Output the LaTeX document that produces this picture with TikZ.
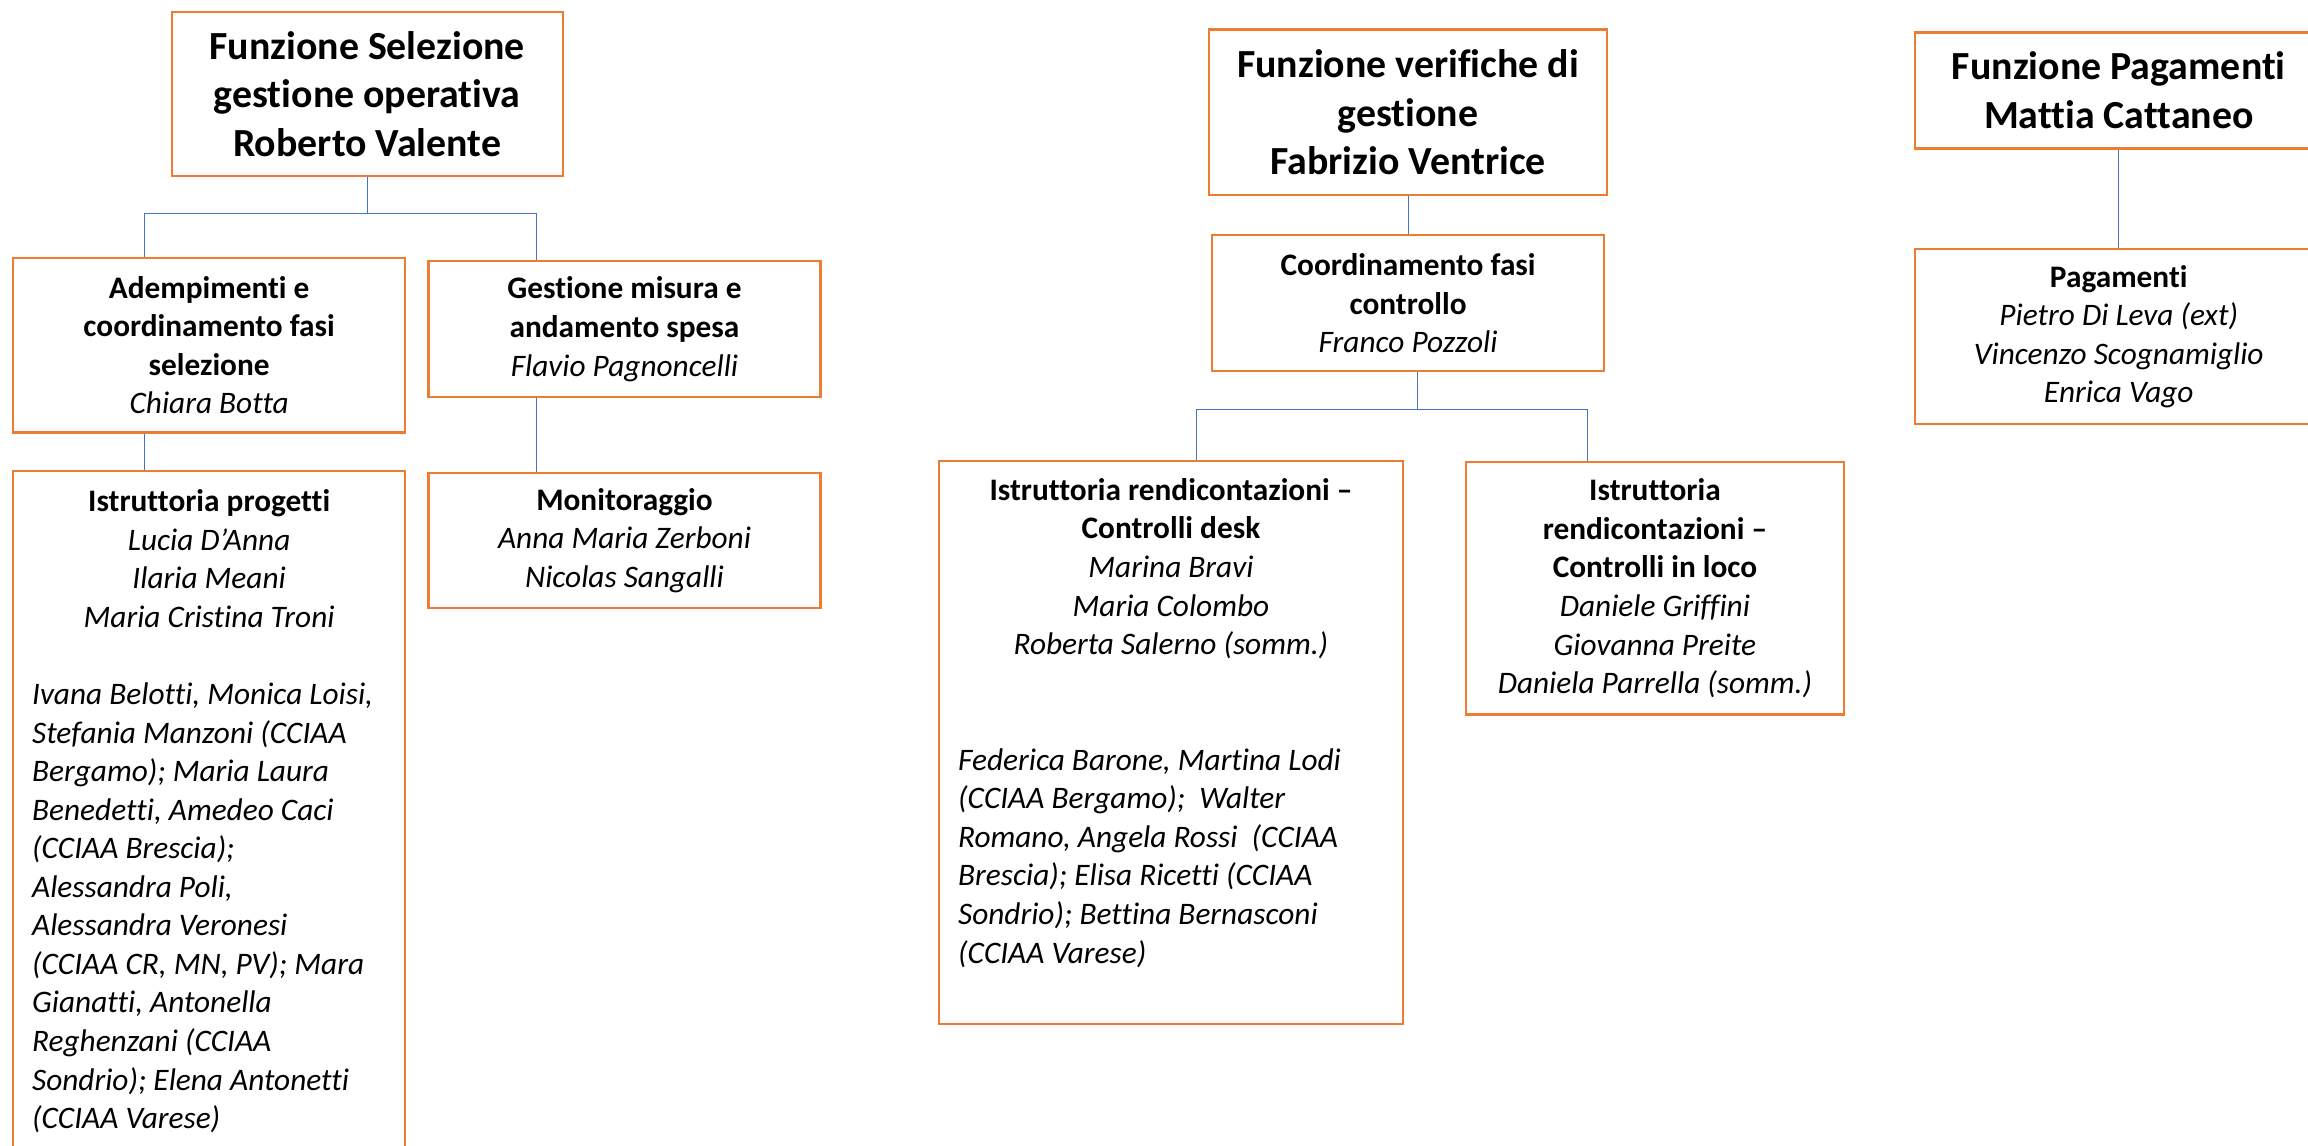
\documentclass[tikz,border=0pt]{standalone}
\usepackage{fontspec}
\setmainfont{Carlito}[Ligatures=NoCommon]
\usetikzlibrary{positioning}
\definecolor{boxorange}{RGB}{237,125,49}
\definecolor{linkblue}{RGB}{68,114,196}
\newcommand{\ppx}{0.02cm}
\newcommand{\titlefont}{\fontsize{15.4pt}{18.8pt}\selectfont\bfseries}
\newcommand{\bodyfont}{\fontsize{12.1pt}{14.9pt}\selectfont}

\begin{document}
\begin{tikzpicture}[x=\ppx, y=-\ppx,
    box/.style={draw=boxorange, line width=0.9pt, fill=white, inner sep=0pt, align=center, font=\bodyfont},
    headbox/.style={box, font=\titlefont},
    link/.style={draw=linkblue, line width=0.45pt}]
    \useasboundingbox (0,0) rectangle (1567,778);
    \clip (0,0) rectangle (1567,778);
    % Funzione Selezione
    \node[headbox, minimum width=265.5*\ppx, minimum height=111.5*\ppx] (selez) at (249.3,63.8)
        {Funzione Selezione\\gestione operativa\\Roberto Valente};
    \node[box, minimum width=266*\ppx, minimum height=118.6*\ppx] (adempi) at (142,234.3)
        {\textbf{Adempimenti e}\\\textbf{coordinamento fasi}\\\textbf{selezione}\\\textit{Chiara Botta}};
    \node[box, minimum width=266*\ppx, minimum height=92.4*\ppx] (gestmis) at (424,223.5)
        {\textbf{Gestione misura e}\\\textbf{andamento spesa}\\\textit{Flavio Pagnoncelli}};
    \node[box, minimum width=266*\ppx, minimum height=484*\ppx] (istrprog) at (142,562)
        {\textbf{Istruttoria progetti}\\\textit{Lucia D’Anna}\\\textit{Ilaria Meani}\\\textit{Maria Cristina Troni}\\[14.9pt]
        \begin{minipage}[t]{4.808cm}\raggedright\itshape
        Ivana Belotti, Monica Loisi,\\ Stefania Manzoni (CCIAA\\ Bergamo); Maria Laura\\
        Benedetti, Amedeo Caci\\ (CCIAA Brescia);\\ Alessandra Poli,\\ Alessandra Veronesi\\
        (CCIAA CR, MN, PV); Mara\\ Gianatti, Antonella\\ Reghenzani (CCIAA\\
        Sondrio); Elena Antonetti\\ (CCIAA Varese)\rule[-14.4pt]{0pt}{1pt}
        \end{minipage}};
    \node[box, minimum width=266*\ppx, minimum height=92*\ppx] (monit) at (424,367)
        {\textbf{Monitoraggio}\\\textit{Anna Maria Zerboni}\\\textit{Nicolas Sangalli}};
    % Funzione verifiche
    \node[headbox, minimum width=270*\ppx, minimum height=112.4*\ppx] (verif) at (956,76.2)
        {Funzione verifiche di\\gestione\\Fabrizio Ventrice};
    \node[box, minimum width=266*\ppx, minimum height=92.5*\ppx] (coordctrl) at (956,205.8)
        {\textbf{Coordinamento fasi}\\\textbf{controllo}\\\textit{Franco Pozzoli}};
    \node[box, minimum width=315*\ppx, minimum height=382*\ppx] (desk) at (795,504)
        {\textbf{Istruttoria rendicontazioni –}\\\textbf{Controlli desk}\\\textit{Marina Bravi}\\\textit{Maria Colombo}\\\textit{Roberta Salerno (somm.)}\\[29.8pt]
        \begin{minipage}[t]{5.78cm}\raggedright\itshape
        Federica Barone, Martina Lodi\\ (CCIAA Bergamo);\ \ Walter\\ Romano, Angela Rossi\ \ (CCIAA\\
        Brescia); Elisa Ricetti (CCIAA\\ Sondrio); Bettina Bernasconi\\ (CCIAA Varese)\rule[-16.7pt]{0pt}{1pt}
        \end{minipage}};
    \node[box, minimum width=256.8*\ppx, minimum height=171.4*\ppx] (inloco) at (1123.6,399.5)
        {\textbf{Istruttoria}\\\textbf{rendicontazioni –}\\\textbf{Controlli in loco}\\\textit{Daniele Griffini}\\\textit{Giovanna Preite}\\\textit{Daniela Parrella (somm.)}};
    % Funzione Pagamenti
    \node[headbox, minimum width=277*\ppx, minimum height=78.7*\ppx] (pagfun) at (1438.5,61.4)
        {Funzione Pagamenti\\Mattia Cattaneo};
    \node[box, minimum width=277*\ppx, minimum height=118.5*\ppx] (pagam) at (1438.5,228.5)
        {\textbf{Pagamenti}\\\textit{Pietro Di Leva (ext)}\\\textit{Vincenzo Scognamiglio}\\\textit{Enrica Vago}};
    % connettori
    \coordinate (busA) at (selez.south |- 0,145);
    \coordinate (busG) at (962.4,277.9);
    \draw[link] (selez) -- (busA);
    \draw[link] (98,0 |- adempi.north) |- (busA) -| (364,0 |- gestmis.north);
    \draw[link] (98,0 |- adempi.south) -- (98,0 |- istrprog.north);
    \draw[link] (364,0 |- gestmis.south) -- (364,0 |- monit.north);
    \draw[link] (verif) -- (coordctrl);
    \draw[link] (962.4,0 |- coordctrl.south) -- (busG);
    \draw[link] (812.3,0 |- desk.north) |- (busG) -| (1078,0 |- inloco.north);
    \draw[link] (pagfun) -- (pagam);
\end{tikzpicture}
\end{document}
